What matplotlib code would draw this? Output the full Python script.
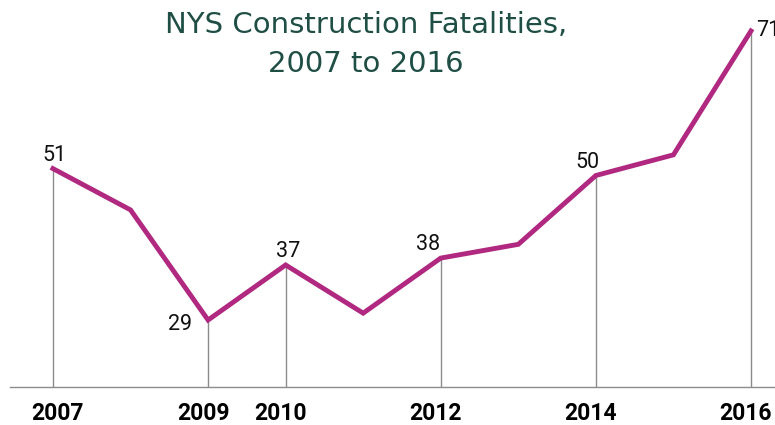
import matplotlib.pyplot as plt
from matplotlib.transforms import ScaledTranslation

years = [2007, 2008, 2009, 2010, 2011, 2012, 2013, 2014, 2015, 2016]
deaths = [51, 45, 29, 37, 30, 38, 40, 50, 53, 71]
tick_years = [2007, 2009, 2010, 2012, 2014, 2016]
# labelled points: year -> (x offset px, y offset px, ha, va)
labelled = {
    2007: (2, 3, "center", "bottom"),
    2009: (-16, -4, "right", "center"),
    2010: (2, 3, "center", "bottom"),
    2012: (-13, 3, "center", "bottom"),
    2014: (-8, 3, "center", "bottom"),
    2016: (5, 0, "left", "center"),
}

LINE = "#b0287f"
GRID = "#8c8c8c"
TITLE = "#1f4e45"

fig = plt.figure(figsize=(7.75, 4.25), dpi=100)
ax = fig.add_axes([10 / 775, 1 - 387 / 425, 765 / 775, 387 / 425])
ax.set_xlim(2006.446, 2016.31)
ax.set_ylim(19.27, 75.5)

for y in tick_years:
    v = deaths[years.index(y)]
    ax.plot([y, y], [19.27, v], color=GRID, lw=1, zorder=1)

ax.plot(years, deaths, color=LINE, lw=3.5, solid_joinstyle="miter", zorder=3)

for y, (dx, dy, ha, va) in labelled.items():
    v = deaths[years.index(y)]
    ax.annotate(str(v), (y, v), xytext=(dx * 0.72, dy * 0.72), textcoords="offset points",
                ha=ha, va=va, fontsize=15.5, family="Roboto", color="#111111")

for s in ["top", "right", "left"]:
    ax.spines[s].set_visible(False)
ax.spines["bottom"].set_color(GRID)
ax.spines["bottom"].set_linewidth(1)
ax.set_yticks([])
ax.set_xticks(tick_years)
ax.set_xticklabels([str(y) for y in tick_years], fontsize=16.5, fontweight="bold", family="Roboto")
ax.tick_params(axis="x", length=0, pad=11)

# nudge tick labels like the original (first one right, the rest left)
for i, lab in enumerate(ax.get_xticklabels()):
    shift = 5 if i == 0 else -5
    lab.set_transform(lab.get_transform() + ScaledTranslation(shift / 100, 0, fig.dpi_scale_trans))

fig.text(366 / 775, 1 - 25 / 425, "NYS Construction Fatalities,", ha="center", va="center",
         fontsize=21, family="DejaVu Sans", color=TITLE)
fig.text(366 / 775, 1 - 64 / 425, "2007 to 2016", ha="center", va="center",
         fontsize=21, family="DejaVu Sans", color=TITLE)

fig.savefig("out.png", dpi=100)
